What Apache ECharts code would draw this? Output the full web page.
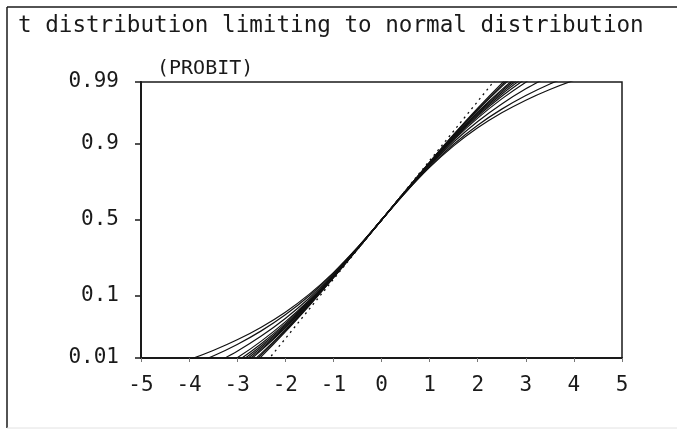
<!DOCTYPE html>
<html>
<head>
<meta charset="utf-8">
<script src="https://cdn.jsdelivr.net/npm/echarts@6/dist/echarts.min.js"></script>
<style>
  html, body { margin: 0; padding: 0; background: #ffffff; }
  #chart { width: 677px; height: 435px; }
</style>
</head>
<body>
<div id="chart"></div>
<script>
// x positions (t value) shared by every curve
const xs = [-5, -4.5, -4, -3.5, -3, -2.5, -2, -1.5, -1, -0.5, 0, 0.5, 1, 1.5, 2, 2.5, 3, 3.5, 4, 4.5, 5];

// cumulative probability of each t curve, expressed in probit units (null = off the chart)
const tDf3_8 = [null, -2.489, -2.355, -2.200, -2.020, -1.807, -1.554, -1.250, -0.886, -0.463, 0, 0.463, 0.886, 1.250, 1.554, 1.807, 2.020, 2.200, 2.355, 2.489, null];
const tDf4_4 = [null, null, -2.462, -2.293, -2.098, -1.869, -1.598, -1.278, -0.900, -0.467, 0, 0.467, 0.900, 1.278, 1.598, 1.869, 2.098, 2.293, 2.462, null, null];
const tDf5_5 = [null, null, null, -2.431, -2.211, -1.956, -1.660, -1.315, -0.918, -0.473, 0, 0.473, 0.918, 1.315, 1.660, 1.956, 2.211, 2.431, null, null, null];
const tDf7 = [null, null, null, -2.571, -2.324, -2.042, -1.718, -1.349, -0.934, -0.479, 0, 0.479, 0.934, 1.349, 1.718, 2.042, 2.324, 2.571, null, null, null];
const tDf8 = [null, null, null, -2.644, -2.382, -2.085, -1.747, -1.366, -0.942, -0.481, 0, 0.481, 0.942, 1.366, 1.747, 2.085, 2.382, 2.644, null, null, null];
const tDf9 = [null, null, null, null, -2.431, -2.121, -1.771, -1.379, -0.948, -0.483, 0, 0.483, 0.948, 1.379, 1.771, 2.121, 2.431, null, null, null, null];
const tDf10 = [null, null, null, null, -2.472, -2.150, -1.790, -1.390, -0.953, -0.485, 0, 0.485, 0.953, 1.390, 1.790, 2.150, 2.472, null, null, null, null];
const tDf11 = [null, null, null, null, -2.508, -2.176, -1.807, -1.399, -0.957, -0.486, 0, 0.486, 0.957, 1.399, 1.807, 2.176, 2.508, null, null, null, null];
const tDf12 = [null, null, null, null, -2.539, -2.198, -1.821, -1.407, -0.960, -0.487, 0, 0.487, 0.960, 1.407, 1.821, 2.198, 2.539, null, null, null, null];
const tDf15 = [null, null, null, null, -2.612, -2.249, -1.852, -1.424, -0.968, -0.490, 0, 0.490, 0.968, 1.424, 1.852, 2.249, 2.612, null, null, null, null];
const tDf17 = [null, null, null, null, -2.649, -2.274, -1.868, -1.433, -0.972, -0.491, 0, 0.491, 0.972, 1.433, 1.868, 2.274, 2.649, null, null, null, null];
const tDf20 = [null, null, null, null, -2.693, -2.304, -1.886, -1.442, -0.976, -0.492, 0, 0.492, 0.976, 1.442, 1.886, 2.304, 2.693, null, null, null, null];
// limiting normal distribution (dotted)
const normalLimit = [null, null, null, null, -3, -2.5, -2, -1.5, -1, -0.5, 0, 0.5, 1, 1.5, 2, 2.5, 3, null, null, null, null];

// probability tick labels and their probit positions
const probTickLabels = ['0.01', '0.1', '0.5', '0.9', '0.99'];
const probTickProbits = [-2.3263, -1.2816, 0, 1.2816, 2.3263];
const xTickValues = [-5, -4, -3, -2, -1, 0, 1, 2, 3, 4, 5];

const tCurves = [tDf3_8, tDf4_4, tDf5_5, tDf7, tDf8, tDf9, tDf10, tDf11, tDf12, tDf15, tDf17, tDf20];

const MONO = '"DejaVu Sans Mono", "Liberation Mono", monospace';
const INK = '#1a1a1a';

function toPairs(values) {
  const pts = [];
  xs.forEach((x, i) => { if (values[i] !== null) pts.push([x, values[i]]); });
  return pts;
}

const series = tCurves.map(arr => ({
  type: 'line',
  data: toPairs(arr),
  symbol: 'none',
  smooth: 0.3,
  clip: true,
  silent: true,
  lineStyle: { color: '#111', width: 1.2, type: 'solid' }
}));
series.push({
  type: 'line',
  data: toPairs(normalLimit),
  symbol: 'none',
  clip: true,
  silent: true,
  lineStyle: { color: '#111', width: 1.3, type: [2, 4] }
});

const chart = echarts.init(document.getElementById('chart'), null, { renderer: 'canvas' });
chart.setOption({
  animation: false,
  backgroundColor: '#ffffff',
  title: {
    text: 't distribution limiting to normal distribution',
    left: 13,
    top: 10,
    textStyle: { fontFamily: MONO, fontSize: 22.6, fontWeight: 'normal', color: INK }
  },
  grid: {
    left: 141, right: 55, top: 82, bottom: 77,
    show: true, borderColor: INK, borderWidth: 1.5, backgroundColor: 'transparent'
  },
  xAxis: {
    type: 'value',
    min: -5, max: 5, interval: 1,
    axisLine: { show: true, onZero: false, lineStyle: { color: INK, width: 2 } },
    axisTick: { show: true, length: 4, customValues: xTickValues, lineStyle: { color: '#777', width: 1 } },
    axisLabel: {
      customValues: xTickValues,
      margin: 17,
      fontFamily: MONO, fontSize: 21, color: INK,
      formatter: v => String(v)
    },
    splitLine: { show: false }
  },
  yAxis: {
    type: 'value',
    min: probTickProbits[0], max: probTickProbits[probTickProbits.length - 1],
    name: '(PROBIT)',
    nameLocation: 'end',
    nameGap: 3,
    nameTextStyle: { fontFamily: MONO, fontSize: 20, color: INK, align: 'left', padding: [0, 0, 0, 16] },
    axisLine: { show: true, onZero: false, lineStyle: { color: INK, width: 2 } },
    axisTick: { show: true, length: 6, customValues: probTickProbits, lineStyle: { color: INK, width: 1.5 } },
    axisLabel: {
      customValues: probTickProbits,
      margin: 22,
      fontFamily: MONO, fontSize: 21, color: INK,
      formatter: v => {
        const i = probTickProbits.findIndex(p => Math.abs(p - v) < 1e-6);
        return i >= 0 ? probTickLabels[i] : '';
      }
    },
    splitLine: { show: false }
  },
  graphic: [
    { type: 'line', silent: true, shape: { x1: 7, y1: 7, x2: 677, y2: 7 }, style: { stroke: INK, lineWidth: 1.5 } },
    { type: 'line', silent: true, shape: { x1: 7, y1: 7, x2: 7, y2: 428 }, style: { stroke: INK, lineWidth: 1.5 } },
    { type: 'line', silent: true, shape: { x1: 7, y1: 428, x2: 677, y2: 428 }, style: { stroke: '#e2e2e2', lineWidth: 1 } }
  ],
  series: series
});
</script>
</body>
</html>
